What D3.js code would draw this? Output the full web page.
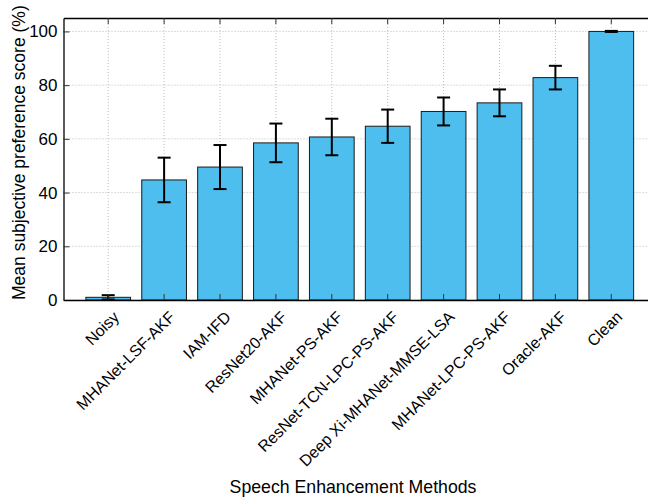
<!DOCTYPE html>
<html>
<head>
<meta charset="utf-8">
<script src="https://cdn.jsdelivr.net/npm/d3@7"></script>
<style>
  body { margin: 0; background: #fff; overflow: hidden; }
  text { font-family: "Liberation Sans", Arial, sans-serif; fill: #000; }
  .grid line { stroke: #bbb; stroke-dasharray: 1 2; }
</style>
</head>
<body>
<div id="chart"></div>
<script>
const methods = ['Noisy', 'MHANet-LSF-AKF', 'IAM-IFD', 'ResNet20-AKF', 'MHANet-PS-AKF',
    'ResNet-TCN-LPC-PS-AKF', 'Deep Xi-MHANet-MMSE-LSA', 'MHANet-LPC-PS-AKF', 'Oracle-AKF', 'Clean']
const scores = [1.0, 44.7, 49.5, 58.5, 60.7, 64.7, 70.2, 73.4, 82.8, 100]
const errors = [0.8, 8.3, 8.2, 7.2, 6.8, 6.2, 5.2, 5.0, 4.4, 0.2]
const yTicks = [0, 20, 40, 60, 80, 100]

let dms = {
    width: 648,
    height: 498,
    margin: { top: 18, right: -8, bottom: 198, left: 63.5 }
}
dms.chartWidth = dms.width - dms.margin.left - dms.margin.right
dms.chartHeight = dms.height - dms.margin.top - dms.margin.bottom

const svg = d3.select('#chart').append('svg')
    .attr('width', dms.width)
    .attr('height', dms.height)

const content = svg.append('g')
    .attr('transform', `translate(${dms.margin.left}, ${dms.margin.top})`)

const data = methods.map((m, i) => ({ m, v: scores[i], e: errors[i] }))

const xScale = d3.scaleBand()
    .domain(methods)
    .range([0, dms.chartWidth])
    .paddingInner(0.2)
    .paddingOuter(0.4)

const yScale = d3.scaleLinear()
    .domain([0, 105])
    .range([dms.chartHeight, 0])

// grid
const grid = content.append('g').attr('class', 'grid')
grid.selectAll('.gy')
    .data(yTicks)
    .join('line')
    .attr('x1', 0).attr('x2', dms.chartWidth)
    .attr('y1', d => yScale(d)).attr('y2', d => yScale(d))
grid.selectAll('.gx')
    .data(methods)
    .join('line')
    .attr('class', 'gx')
    .attr('x1', d => xScale(d) + xScale.bandwidth() / 2)
    .attr('x2', d => xScale(d) + xScale.bandwidth() / 2)
    .attr('y1', 0).attr('y2', dms.chartHeight)

// bars
content.append('g')
    .selectAll('rect')
    .data(data)
    .join('rect')
    .attr('x', d => xScale(d.m))
    .attr('y', d => yScale(d.v))
    .attr('width', xScale.bandwidth())
    .attr('height', d => yScale(0) - yScale(d.v))
    .attr('fill', '#4DBEEE')
    .attr('stroke', '#1a1a1a')
    .attr('stroke-width', 1)

// error bars
const errG = content.append('g')
    .attr('stroke', '#000')
    .attr('stroke-width', 2)
const cx = d => xScale(d.m) + xScale.bandwidth() / 2
const capW = 6.5
errG.selectAll('.ev')
    .data(data)
    .join('line')
    .attr('x1', cx).attr('x2', cx)
    .attr('y1', d => yScale(d.v - d.e)).attr('y2', d => yScale(d.v + d.e))
errG.selectAll('.ct')
    .data(data)
    .join('line')
    .attr('x1', d => cx(d) - capW).attr('x2', d => cx(d) + capW)
    .attr('y1', d => yScale(d.v + d.e)).attr('y2', d => yScale(d.v + d.e))
errG.selectAll('.cb')
    .data(data)
    .join('line')
    .attr('x1', d => cx(d) - capW).attr('x2', d => cx(d) + capW)
    .attr('y1', d => yScale(d.v - d.e)).attr('y2', d => yScale(d.v - d.e))

// axes, ticks inside like matlab
const yAxis = content.append('g')
    .call(d3.axisLeft(yScale).tickValues(yTicks).tickSizeInner(-6).tickSizeOuter(0).tickPadding(6))
const yAxisR = content.append('g')
    .attr('transform', `translate(${dms.chartWidth}, 0)`)
    .call(d3.axisRight(yScale).tickValues(yTicks).tickSizeInner(-6).tickSizeOuter(0).tickFormat(''))
const xAxis = content.append('g')
    .attr('transform', `translate(0, ${dms.chartHeight})`)
    .call(d3.axisBottom(xScale).tickSizeInner(-6).tickSizeOuter(0).tickFormat(''))
const xAxisT = content.append('g')
    .call(d3.axisTop(xScale).tickSizeInner(-6).tickSizeOuter(0).tickFormat(''))

;[yAxis, yAxisR, xAxis, xAxisT].forEach(a => {
    a.select('.domain').attr('stroke', '#000').attr('stroke-width', 1.3)
    a.selectAll('.tick line').attr('stroke', '#333').attr('stroke-width', 1)
})
yAxis.selectAll('.tick text')
    .style('font-size', '17px')
    .attr('fill', '#000')

// rotated category labels
content.append('g')
    .selectAll('text')
    .data(methods)
    .join('text')
    .attr('transform', d => `translate(${xScale(d) + xScale.bandwidth() / 2 + 8}, ${dms.chartHeight + 14}) rotate(-45)`)
    .attr('text-anchor', 'end')
    .attr('dy', '0.35em')
    .style('font-size', '16px')
    .text(d => d)

// titles
svg.append('text')
    .attr('x', 353)
    .attr('y', 493)
    .attr('text-anchor', 'middle')
    .style('font-size', '17.7px')
    .text('Speech Enhancement Methods')

svg.append('text')
    .attr('transform', `translate(25, 300) rotate(-90)`)
    .attr('text-anchor', 'start')
    .style('font-size', '17.5px')
    .text('Mean subjective preference score (%)')
</script>
</body>
</html>
